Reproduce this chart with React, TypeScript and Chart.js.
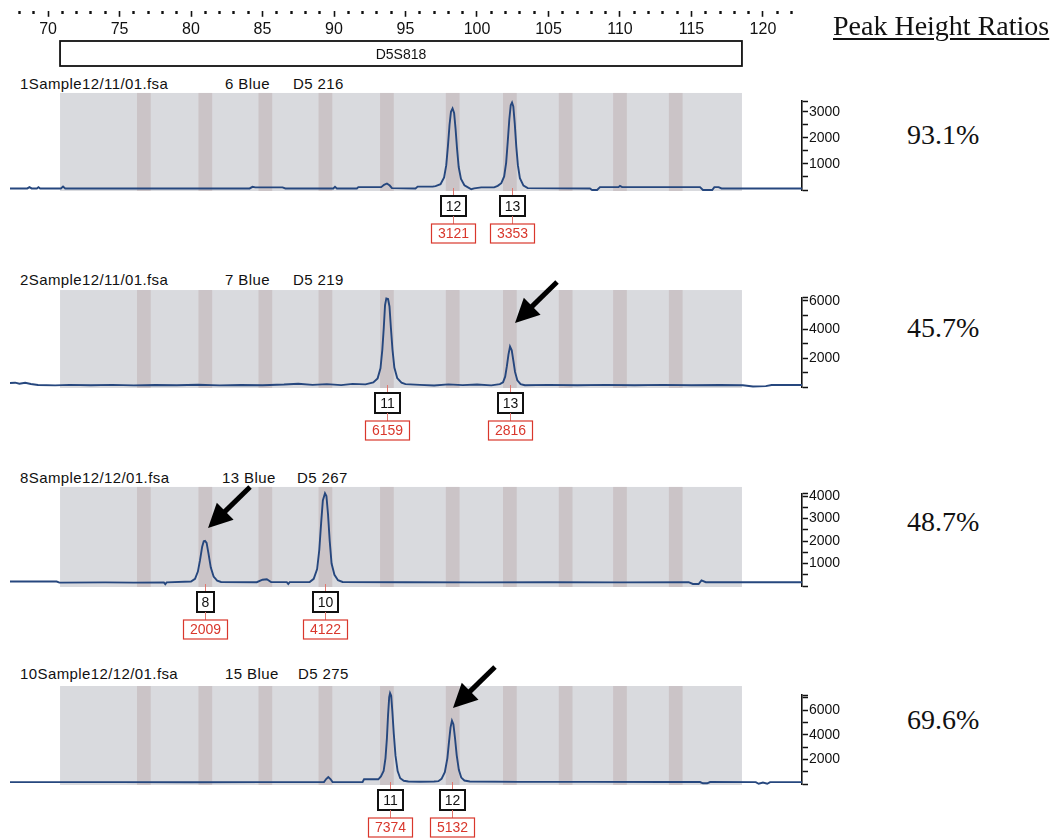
import React, { useEffect, useRef } from "react";
import { Chart, registerables } from "chart.js";
Chart.register(...registerables);

type Pt = [number, number];

// ---------- data ----------
const X_MIN = 67.34;
const X_MAX = 122.73;
const rulerTickValues = [68, 69, 70, 71, 72, 73, 74, 75, 76, 77, 78, 79, 80, 81, 82, 83, 84, 85, 86, 87, 88, 89, 90, 91, 92, 93, 94, 95, 96, 97, 98, 99, 100, 101, 102, 103, 104, 105, 106, 107, 108, 109, 110, 111, 112, 113, 114, 115, 116, 117, 118, 119, 120, 121, 122];
const rulerLabelValues = [70, 75, 80, 85, 90, 95, 100, 105, 110, 115, 120];
const markerName = "D5S818";
const markerStart = 70.84;
const markerEnd = 118.53;
const binCenters = [76.7, 81.0, 85.2, 89.4, 93.7, 98.3, 102.3, 106.2, 110.0, 113.9];

const sampleNames = ["1Sample12/11/01.fsa", "2Sample12/11/01.fsa", "8Sample12/12/01.fsa", "10Sample12/12/01.fsa"];
const laneNames = ["6 Blue", "7 Blue", "13 Blue", "15 Blue"];
const sampleCodes = ["D5 216", "D5 219", "D5 267", "D5 275"];
const ratioTitle = "Peak Height Ratios";
const ratioLabels = ["93.1%", "45.7%", "48.7%", "69.6%"];

const trace1: Pt[] = [
  [67.34, 60], [68.55, 60], [68.7, 110], [68.85, 60], [69.22, 60], [69.33, 110], [69.45, 60],
  [70.9, 60], [71.05, 130], [71.2, 60],
  [84.1, 60], [84.3, 120], [84.5, 100], [86.4, 100], [86.6, 60],
  [89.95, 60], [90.07, 120], [90.2, 60],
  [91.6, 60], [91.7, 110], [93.3, 110], [93.5, 200], [93.7, 250], [93.9, 170], [94.05, 70],
  [95.7, 60], [95.85, 130], [96.9, 130],
  [97.1, 150], [97.45, 220], [97.7, 480], [97.85, 950], [97.97, 1700], [98.08, 2500], [98.18, 3000], [98.29, 3121], [98.4, 2950], [98.5, 2350], [98.61, 1550], [98.72, 880], [98.88, 420], [99.12, 180], [99.4, 90], [99.6, 30], [99.8, 60],
  [100.3, 100], [101.2, 100],
  [101.45, 160], [101.7, 260], [101.9, 520], [102.04, 1050], [102.15, 1850], [102.26, 2700], [102.36, 3250], [102.45, 3353], [102.54, 3200], [102.64, 2550], [102.75, 1650], [102.86, 950], [103.0, 450], [103.25, 170], [103.55, 70],
  [107.9, 60], [108.05, 0], [108.4, 0], [108.6, 110], [109.9, 110], [110.0, 160], [110.15, 110],
  [115.6, 110], [115.8, 0], [116.45, 0], [116.6, 110], [116.9, 110], [117.1, 60], [122.73, 60],
];
const trace2: Pt[] = [
  [67.34, 280], [67.7, 300], [68.0, 230], [68.4, 290], [68.8, 210], [69.3, 140], [70.5, 110], [71.5, 150], [73.0, 120], [74.5, 150], [76.0, 110], [77.5, 140], [79.0, 120], [80.5, 160], [82.0, 110], [83.5, 140], [85.0, 120], [86.5, 170], [87.5, 230], [88.5, 150], [89.5, 200], [90.5, 130], [91.3, 220], [92.2, 180],
  [92.75, 320], [93.05, 600], [93.25, 1300], [93.38, 2600], [93.48, 4100], [93.57, 5700], [93.66, 6159], [93.78, 6120], [93.88, 5600], [93.98, 4100], [94.09, 2600], [94.22, 1350], [94.42, 620], [94.72, 300], [95.0, 200],
  [96.0, 150], [97.0, 100], [98.0, 180], [99.0, 130], [100.0, 170], [101.0, 110], [101.6, 200],
  [101.82, 330], [101.97, 720], [102.09, 1450], [102.2, 2250], [102.31, 2816], [102.43, 2550], [102.54, 1850], [102.66, 1050], [102.82, 470], [103.05, 200], [103.35, 120],
  [105.0, 150], [107.0, 120], [109.0, 150], [111.0, 120], [113.0, 150], [115.0, 120], [117.0, 140], [118.6, 120], [119.3, 40], [120.2, 60], [120.6, 140], [122.73, 140],
];
const trace3: Pt[] = [
  [67.34, 200], [70.6, 200], [70.8, 150], [74.0, 160], [76.0, 150], [78.1, 160], [78.2, 80], [78.3, 160], [80.0, 200],
  [80.28, 320], [80.48, 640], [80.63, 1150], [80.78, 1750], [80.89, 1990], [80.98, 2009], [81.09, 1920], [81.22, 1450], [81.38, 830], [81.58, 420], [81.83, 240], [82.1, 180],
  [84.6, 170], [85.0, 280], [85.3, 300], [85.6, 180], [86.7, 170], [86.8, 90], [86.9, 170], [88.3, 180],
  [88.58, 320], [88.82, 750], [88.97, 1600], [89.1, 2800], [89.22, 3800], [89.37, 4122], [89.47, 4000], [89.58, 3200], [89.7, 2000], [89.83, 1000], [90.03, 500], [90.28, 260], [90.6, 180],
  [95.0, 170], [100.0, 160], [105.0, 170], [110.0, 160], [114.8, 170], [115.1, 90], [115.5, 90], [115.7, 250], [116.0, 170], [122.73, 170],
];
const trace4: Pt[] = [
  [67.34, 150], [75.0, 150], [80.0, 140], [85.0, 150], [89.3, 150], [89.45, 400], [89.6, 570], [89.75, 400], [89.9, 150], [92.0, 160], [92.1, 380], [93.1, 380],
  [93.28, 620], [93.47, 1050], [93.6, 2100], [93.7, 3700], [93.78, 5600], [93.86, 7050], [93.92, 7374], [94.0, 7150], [94.08, 5900], [94.18, 4100], [94.3, 2300], [94.45, 1050], [94.63, 470], [94.88, 260], [95.2, 200],
  [96.0, 180], [97.0, 200], [97.3, 230],
  [97.52, 420], [97.75, 950], [97.93, 2100], [98.04, 3400], [98.15, 4600], [98.25, 5132], [98.35, 4850], [98.46, 3750], [98.58, 2350], [98.73, 1150], [98.9, 520], [99.12, 280], [99.5, 200],
  [103.0, 170], [108.0, 170], [113.0, 160], [115.6, 160], [115.8, 60], [116.1, 60], [116.3, 160], [119.5, 150], [119.7, 20], [120.0, 120], [120.3, 20], [120.5, 150], [122.73, 150],
];

const peakAlleles1 = ["12", "13"];
const peakSizes1 = [98.29, 102.45];
const peakHeights1 = [3121, 3353];
const peakAlleles2 = ["11", "13"];
const peakSizes2 = [93.72, 102.31];
const peakHeights2 = [6159, 2816];
const peakAlleles3 = ["8", "10"];
const peakSizes3 = [80.98, 89.37];
const peakHeights3 = [2009, 4122];
const peakAlleles4 = ["11", "12"];
const peakSizes4 = [93.92, 98.25];
const peakHeights4 = [7374, 5132];

const yTicks1 = [0, 500, 1000, 1500, 2000, 2500, 3000, 3400];
const yTicks2 = [0, 1000, 2000, 3000, 4000, 5000, 6000, 6200];
const yTicks3 = [0, 500, 1000, 1500, 2000, 2500, 3000, 3500, 4000, 4100];
const yTicks4 = [0, 1000, 2000, 3000, 4000, 5000, 6000, 7000, 7200];
const yLabels1 = [1000, 2000, 3000];
const yLabels2 = [2000, 4000, 6000];
const yLabels3 = [1000, 2000, 3000, 4000];
const yLabels4 = [2000, 4000, 6000];

const arrowTip2: Pt = [102.66, 4450];
const arrowTip3: Pt = [81.19, 2578];
const arrowTip4: Pt = [98.32, 6164];

// ---------- assembled panel table ----------
const panels = [
  { trace: trace1, alleles: peakAlleles1, sizes: peakSizes1, heights: peakHeights1, yTicks: yTicks1, yLabels: yLabels1, arrow: null as Pt | null },
  { trace: trace2, alleles: peakAlleles2, sizes: peakSizes2, heights: peakHeights2, yTicks: yTicks2, yLabels: yLabels2, arrow: arrowTip2 },
  { trace: trace3, alleles: peakAlleles3, sizes: peakSizes3, heights: peakHeights3, yTicks: yTicks3, yLabels: yLabels3, arrow: arrowTip3 },
  { trace: trace4, alleles: peakAlleles4, sizes: peakSizes4, heights: peakHeights4, yTicks: yTicks4, yLabels: yLabels4, arrow: arrowTip4 },
];

// ---------- layout / style ----------
const panelLayout = [
  { baseline: 190, pxPer1000: 26.1, grayAbove: 8.3, headerY: 84, ratioY: 136, laneX: 225, codeX: 293 },
  { baseline: 387, pxPer1000: 14.38, grayAbove: 7.8, headerY: 280, ratioY: 329, laneX: 225, codeX: 293 },
  { baseline: 586, pxPer1000: 22.5, grayAbove: 6.8, headerY: 478, ratioY: 523, laneX: 222, codeX: 297 },
  { baseline: 784, pxPer1000: 12.33, grayAbove: 9.2, headerY: 674, ratioY: 721, laneX: 225, codeX: 298 },
];
const SANS = "'Liberation Sans', Arial, sans-serif";
const SERIF = "'Liberation Serif', 'Times New Roman', serif";
const TRACE = "#26477e";
const GRAY = "#d9dade";
const STRIPE = "#cbc4c7";
const RED = "#d9372c";
const CANVAS_W = 862;
const ABOVE = 135;
const BELOW = 56;
const RULER_TOP = -40; // ruler canvas starts above the page so its axis box has room
const RULER_H = 110;

function isMajorRulerTick(c: any) {
  const v = c && c.tick ? Number(c.tick.value) : rulerTickValues[c.index];
  return rulerLabelValues.includes(v);
}

function buildRuler(canvas: HTMLCanvasElement) {
  const boxPlugin = {
    id: "markerBox",
    afterDraw(chart: any) {
      const { ctx } = chart;
      const x = chart.scales.x;
      const l = x.getPixelForValue(markerStart);
      const r = x.getPixelForValue(markerEnd);
      const top = 41 - RULER_TOP;
      ctx.save();
      ctx.strokeStyle = "#111";
      ctx.lineWidth = 1.8;
      ctx.strokeRect(l, top, r - l, 25);
      ctx.fillStyle = "#111";
      ctx.font = `14px ${SANS}`;
      ctx.textAlign = "center";
      ctx.textBaseline = "middle";
      ctx.fillText(markerName, (l + r) / 2, top + 14);
      ctx.restore();
    },
  };
  return new Chart(canvas, {
    type: "line",
    data: { datasets: [] },
    options: {
      animation: false,
      responsive: false,
      maintainAspectRatio: false,
      events: [],
      layout: { padding: { left: 10, right: 60, top: 0, bottom: 28 } },
      plugins: { legend: { display: false }, tooltip: { enabled: false } },
      scales: {
        x: {
          type: "linear",
          position: "bottom",
          min: X_MIN,
          max: X_MAX,
          afterBuildTicks: (s: any) => {
            s.ticks = rulerTickValues.map((v) => ({ value: v }));
          },
          ticks: {
            autoSkip: false,
            maxRotation: 0,
            minRotation: 0,
            padding: 3,
            color: "#111",
            font: { family: SANS, size: 16 },
            callback: (v: any) => (rulerLabelValues.includes(Number(v)) ? String(v) : ""),
          },
          grid: {
            drawOnChartArea: false,
            drawTicks: true,
            tickLength: 6,
            tickColor: "#111",
            tickWidth: (c: any) => (isMajorRulerTick(c) ? 1.6 : 2.4),
            tickBorderDash: (c: any) => (isMajorRulerTick(c) ? [] : [3, 50]),
          },
          border: { display: false },
        },
        y: { display: false, min: 0, max: 1 },
      },
    } as any,
    plugins: [boxPlugin],
  });
}

function buildPanel(canvas: HTMLCanvasElement, i: number) {
  const P = panels[i];
  const L = panelLayout[i];
  const ymax = P.yTicks[P.yTicks.length - 1];
  const areaH = (ymax * L.pxPer1000) / 1000;

  const bgPlugin = {
    id: "binsBg",
    beforeDatasetsDraw(chart: any) {
      const { ctx, chartArea } = chart;
      const x = chart.scales.x;
      const y = chart.scales.y;
      const l = x.getPixelForValue(markerStart);
      const r = x.getPixelForValue(markerEnd);
      const top = chartArea.top - L.grayAbove;
      const bottom = y.getPixelForValue(0) + 1;
      ctx.save();
      ctx.fillStyle = GRAY;
      ctx.fillRect(l, top, r - l, bottom - top);
      ctx.fillStyle = STRIPE;
      binCenters.forEach((b) => {
        const a = x.getPixelForValue(b - 0.48);
        const c = x.getPixelForValue(b + 0.48);
        ctx.fillRect(a, top, c - a, bottom - top);
      });
      ctx.restore();
    },
  };

  const labelPlugin = {
    id: "peakLabels",
    afterDraw(chart: any) {
      const { ctx } = chart;
      const x = chart.scales.x;
      const y = chart.scales.y;
      const base = y.getPixelForValue(0);
      ctx.save();
      P.sizes.forEach((s, k) => {
        const px = Math.round(x.getPixelForValue(s)) + 0.5;
        ctx.strokeStyle = "#e0786f";
        ctx.lineWidth = 1;
        ctx.beginPath();
        ctx.moveTo(px, base - 2);
        ctx.lineTo(px, base + 6);
        ctx.stroke();
        const bw = P.alleles[k].length > 1 ? 25 : 17;
        const bh = 20;
        const by = base + 6;
        ctx.fillStyle = "#fff";
        ctx.fillRect(px - bw / 2, by, bw, bh);
        ctx.strokeStyle = "#111";
        ctx.lineWidth = 2;
        ctx.strokeRect(px - bw / 2, by, bw, bh);
        ctx.fillStyle = "#111";
        ctx.font = `14px ${SANS}`;
        ctx.textAlign = "center";
        ctx.textBaseline = "middle";
        ctx.fillText(P.alleles[k], px, by + bh / 2 + 1);
        ctx.strokeStyle = "#e0786f";
        ctx.lineWidth = 1;
        ctx.beginPath();
        ctx.moveTo(px, by + bh);
        ctx.lineTo(px, by + bh + 8);
        ctx.stroke();
        const rw = 44;
        const rh = 19;
        const ry = by + bh + 8;
        ctx.fillStyle = "#fff";
        ctx.fillRect(px - rw / 2, ry, rw, rh);
        ctx.strokeStyle = RED;
        ctx.lineWidth = 1.2;
        ctx.strokeRect(px - rw / 2, ry, rw, rh);
        ctx.fillStyle = RED;
        ctx.font = `14px ${SANS}`;
        ctx.fillText(String(P.heights[k]), px, ry + rh / 2 + 1);
      });
      ctx.restore();
    },
  };

  const arrowPlugin = {
    id: "arrow",
    afterDraw(chart: any) {
      if (!P.arrow) return;
      const { ctx } = chart;
      const tx = chart.scales.x.getPixelForValue(P.arrow[0]);
      const ty = chart.scales.y.getPixelForValue(P.arrow[1]);
      const sx = tx + 42;
      const sy = ty - 41;
      const dx = tx - sx;
      const dy = ty - sy;
      const len = Math.hypot(dx, dy);
      const ux = dx / len;
      const uy = dy / len;
      const headLen = 24;
      const headHalf = 12;
      const bx = tx - ux * headLen;
      const by = ty - uy * headLen;
      ctx.save();
      ctx.strokeStyle = "#000";
      ctx.fillStyle = "#000";
      ctx.lineWidth = 5;
      ctx.beginPath();
      ctx.moveTo(sx, sy);
      ctx.lineTo(bx + ux * 2, by + uy * 2);
      ctx.stroke();
      ctx.beginPath();
      ctx.moveTo(tx, ty);
      ctx.lineTo(bx - uy * headHalf, by + ux * headHalf);
      ctx.lineTo(bx + uy * headHalf, by - ux * headHalf);
      ctx.closePath();
      ctx.fill();
      ctx.restore();
    },
  };

  return new Chart(canvas, {
    type: "line",
    data: {
      datasets: [
        {
          data: P.trace.map(([a, b]) => ({ x: a, y: b })),
          borderColor: TRACE,
          borderWidth: 1.9,
          pointRadius: 0,
          tension: 0,
          fill: false,
          clip: false,
        },
      ],
    },
    options: {
      animation: false,
      responsive: false,
      maintainAspectRatio: false,
      events: [],
      layout: { padding: { left: 10, right: 0, top: ABOVE - areaH, bottom: BELOW } },
      plugins: { legend: { display: false }, tooltip: { enabled: false } },
      scales: {
        x: { type: "linear", display: false, min: X_MIN, max: X_MAX },
        y: {
          type: "linear",
          position: "right",
          min: 0,
          max: ymax,
          afterFit: (s: any) => {
            s.width = 60;
          },
          afterBuildTicks: (s: any) => {
            s.ticks = P.yTicks.map((v) => ({ value: v }));
          },
          ticks: {
            autoSkip: false,
            padding: 1,
            color: "#111",
            font: { family: SANS, size: 14 },
            callback: (v: any) => (P.yLabels.includes(Number(v)) ? String(v) : ""),
          },
          grid: { drawOnChartArea: false, tickLength: 6, tickColor: "#111", tickWidth: 1.5 },
          border: { display: true, color: "#111", width: 1.6 },
        },
      },
    } as any,
    plugins: [bgPlugin, labelPlugin, arrowPlugin],
  });
}

function ChartCanvas(props: { build: (c: HTMLCanvasElement) => Chart; top: number; height: number }) {
  const ref = useRef<HTMLCanvasElement>(null);
  useEffect(() => {
    const chart = props.build(ref.current!);
    return () => chart.destroy();
  }, []);
  return (
    <canvas
      ref={ref}
      width={CANVAS_W}
      height={props.height}
      style={{ position: "absolute", left: 0, top: props.top, width: CANVAS_W, height: props.height }}
    />
  );
}

const textBase: React.CSSProperties = {
  position: "absolute",
  whiteSpace: "nowrap",
  color: "#111",
};

export default function App() {
  useEffect(() => {
    document.body.style.overflow = "hidden";
  }, []);
  return (
    <div style={{ position: "absolute", left: 0, top: 0, width: 1061, height: 840, background: "#fff", overflow: "hidden" }}>
      <ChartCanvas build={buildRuler} top={RULER_TOP} height={RULER_H} />
      {panelLayout.map((L, i) => (
        <React.Fragment key={i}>
          <div style={{ ...textBase, left: 20, top: L.headerY - 9, lineHeight: "18px", font: `15px ${SANS}`, letterSpacing: "0.4px" }}>{sampleNames[i]}</div>
          <div style={{ ...textBase, left: L.laneX, top: L.headerY - 9, lineHeight: "18px", font: `15px ${SANS}`, letterSpacing: "0.4px" }}>{laneNames[i]}</div>
          <div style={{ ...textBase, left: L.codeX, top: L.headerY - 9, lineHeight: "18px", font: `15px ${SANS}`, letterSpacing: "0.4px" }}>{sampleCodes[i]}</div>
          <div style={{ ...textBase, left: 907, top: L.ratioY - 17, lineHeight: "34px", font: `28px ${SERIF}` }}>{ratioLabels[i]}</div>
        </React.Fragment>
      ))}
      {panelLayout.map((L, i) => (
        <ChartCanvas key={"c" + i} build={(c) => buildPanel(c, i)} top={L.baseline - ABOVE} height={ABOVE + BELOW} />
      ))}
      <div style={{ ...textBase, left: 833, top: 10, lineHeight: "34px", font: `28px ${SERIF}`, textDecoration: "underline", textDecorationThickness: "1.5px", textUnderlineOffset: "3px" }}>{ratioTitle}</div>
    </div>
  );
}
